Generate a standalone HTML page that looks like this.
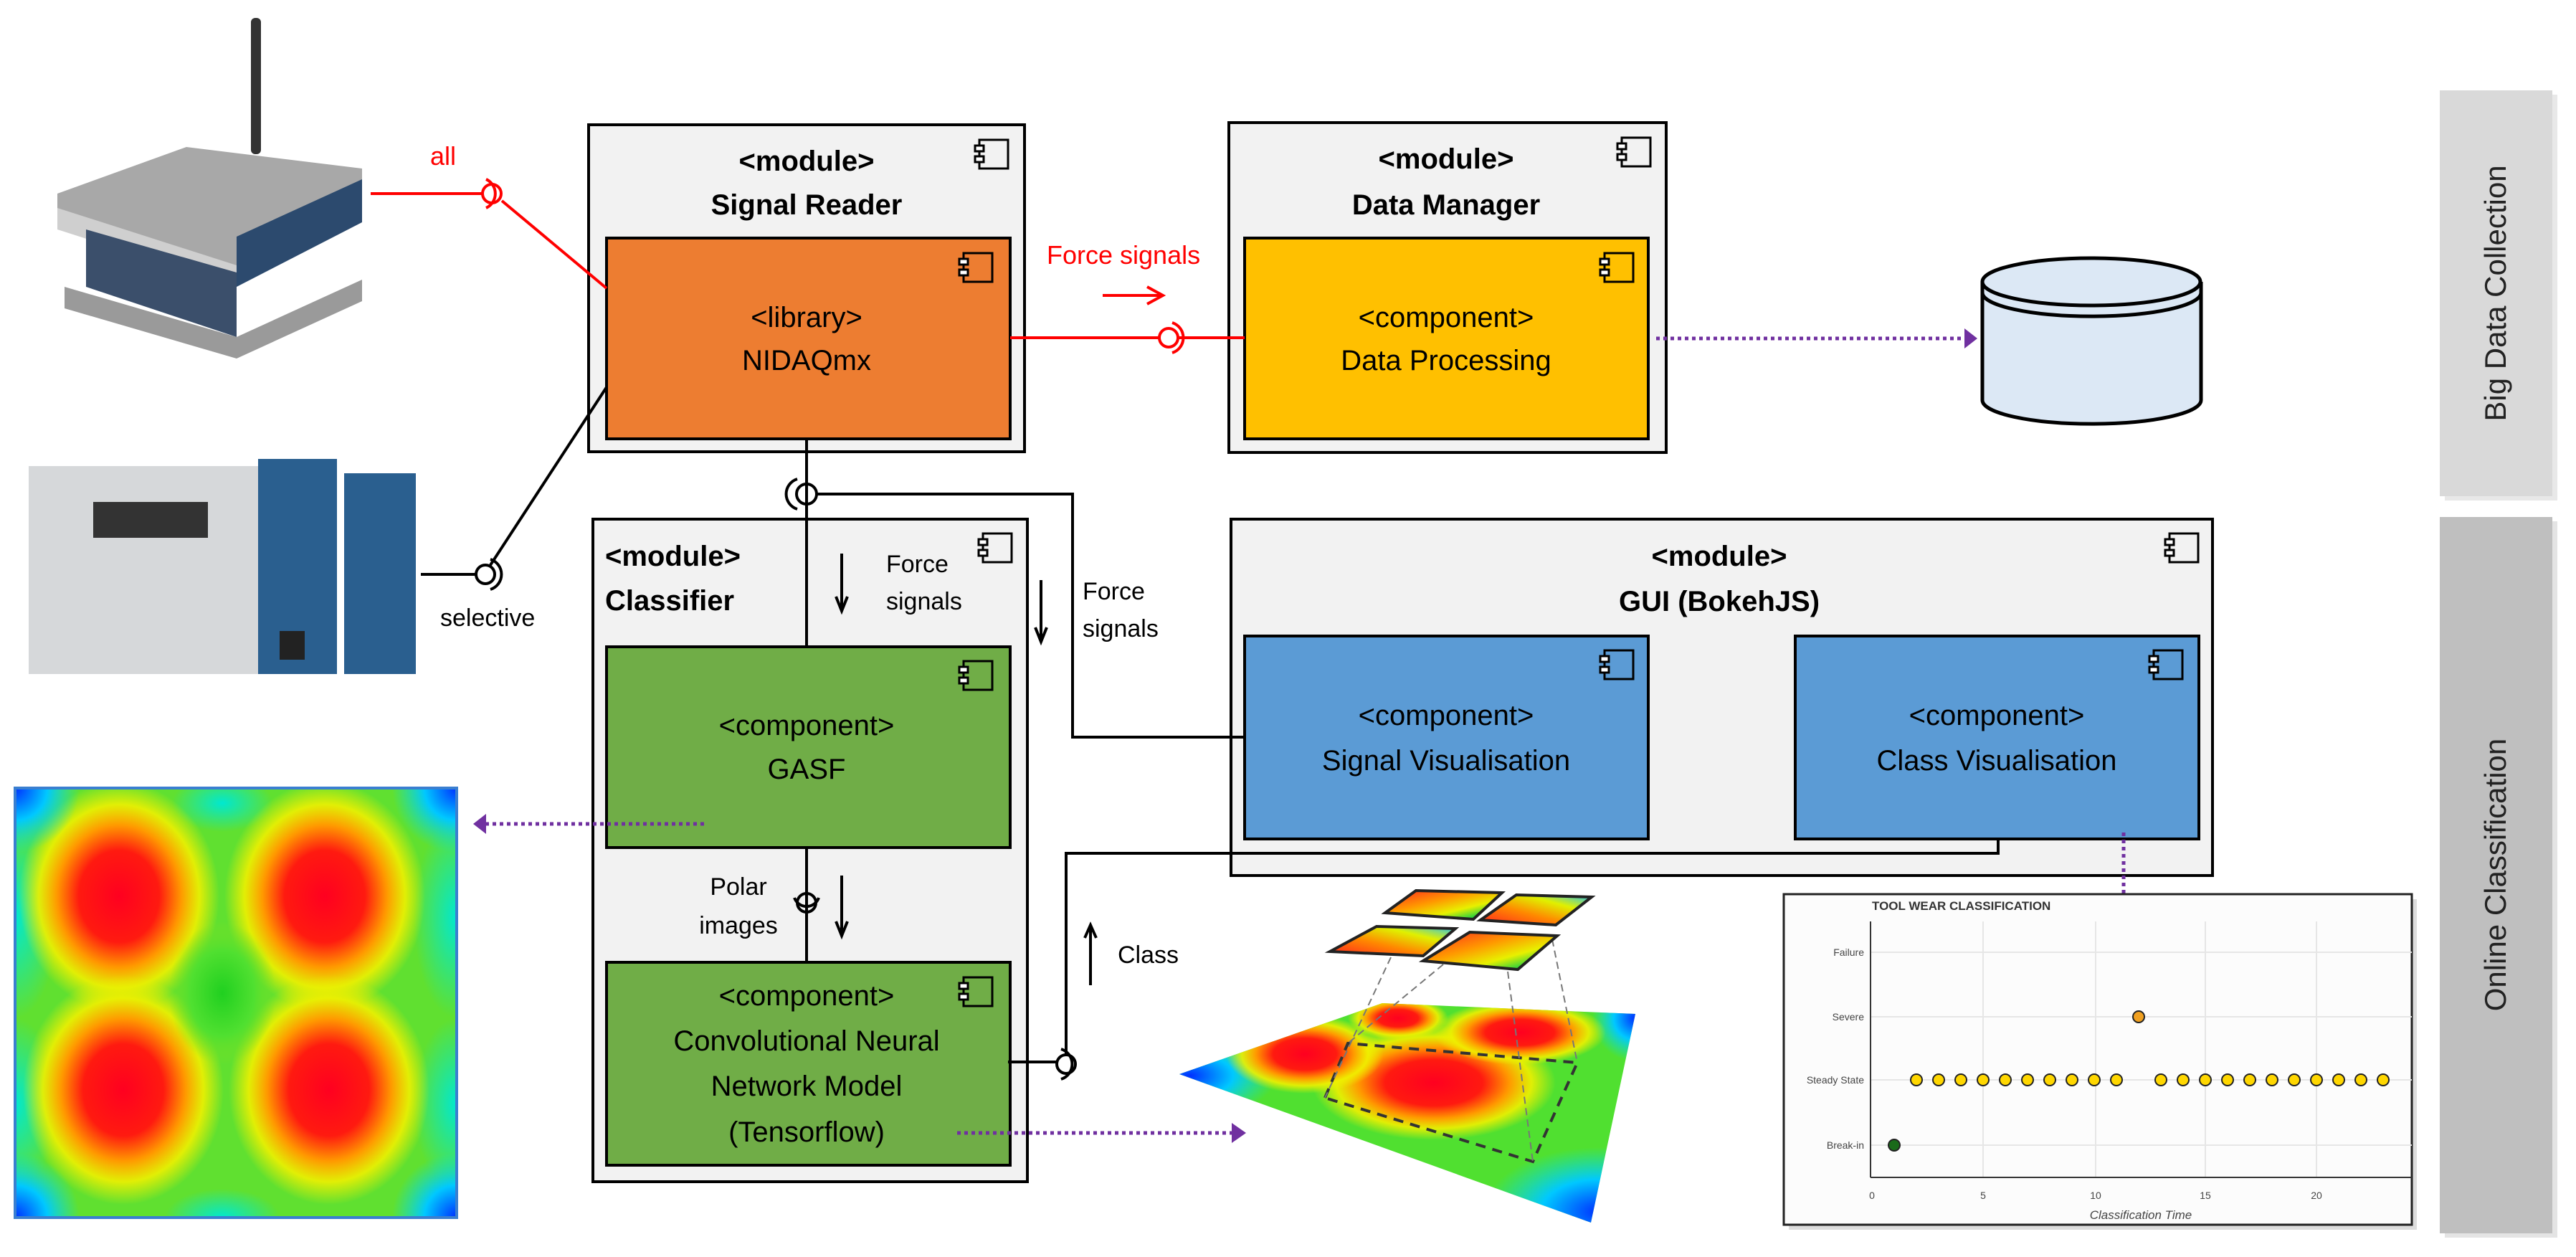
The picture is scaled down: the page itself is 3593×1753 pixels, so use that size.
<!DOCTYPE html>
<html><head><meta charset="utf-8"><style>html,body{margin:0;padding:0;background:#fff}svg{display:block}</style></head><body>
<svg xmlns="http://www.w3.org/2000/svg" width="3593" height="1753" viewBox="0 0 3593 1753" font-family="'Liberation Sans', sans-serif">
<defs>
<radialGradient id="hot"><stop offset="0" stop-color="#ff0020"/><stop offset="0.4" stop-color="#ff1a10"/><stop offset="0.62" stop-color="#ff9900"/><stop offset="0.8" stop-color="#f0f000" stop-opacity="0.9"/><stop offset="1" stop-color="#f0f000" stop-opacity="0"/></radialGradient>
<radialGradient id="cold"><stop offset="0" stop-color="#0030ff"/><stop offset="0.5" stop-color="#00c8ff"/><stop offset="1" stop-color="#00e0e0" stop-opacity="0"/></radialGradient>
<radialGradient id="cyan"><stop offset="0" stop-color="#00e8d0"/><stop offset="1" stop-color="#00e8d0" stop-opacity="0"/></radialGradient>
<radialGradient id="grn"><stop offset="0" stop-color="#20d020"/><stop offset="0.6" stop-color="#50e030"/><stop offset="1" stop-color="#80e020" stop-opacity="0"/></radialGradient>
<linearGradient id="tileg" x1="0" y1="0" x2="1" y2="1"><stop offset="0" stop-color="#ff2020"/><stop offset="0.4" stop-color="#ff9900"/><stop offset="0.65" stop-color="#e8f000"/><stop offset="0.85" stop-color="#20d040"/><stop offset="1" stop-color="#20a0ff"/></linearGradient>
<linearGradient id="tileg2" x1="1" y1="0" x2="0" y2="1"><stop offset="0" stop-color="#20c0ff"/><stop offset="0.3" stop-color="#e0f000"/><stop offset="0.6" stop-color="#ff8800"/><stop offset="1" stop-color="#ff2020"/></linearGradient>
<clipPath id="hm"><rect x="21" y="1099" width="616" height="599"/></clipPath>
<clipPath id="pl"><polygon points="1645,1498 1928,1399 2281,1414 2219,1705"/></clipPath>
</defs>

<!-- devices (approximate) -->
<rect x="350" y="25" width="14" height="190" rx="6" fill="#333"/>
<polygon points="80,270 260,205 505,235 505,300 330,380 80,300" fill="#a8a8a8"/>
<polygon points="330,330 505,250 505,310 330,400" fill="#2c4a6e"/>
<polygon points="80,290 330,370 330,400 80,320" fill="#cfcfcf"/>
<polygon points="90,400 330,470 505,390 505,420 330,500 90,430" fill="#9a9a9a"/>
<polygon points="120,320 330,380 330,470 120,400" fill="#3b4f6b"/>
<rect x="40" y="650" width="320" height="290" fill="#d6d8da"/>
<rect x="130" y="700" width="160" height="50" fill="#333"/>
<rect x="360" y="640" width="110" height="300" fill="#2a5f8f"/>
<rect x="480" y="660" width="100" height="280" fill="#2a5f8f"/>
<rect x="390" y="880" width="35" height="40" fill="#222"/>

<!-- heatmap left -->
<g clip-path="url(#hm)">
<rect x="21" y="1099" width="616" height="599" fill="#60e030"/>
<ellipse cx="310" cy="1120" rx="70" ry="40" fill="url(#cyan)"/>
<ellipse cx="21" cy="1280" rx="60" ry="140" fill="url(#cyan)"/>
<ellipse cx="637" cy="1280" rx="60" ry="140" fill="url(#cyan)"/>
<ellipse cx="21" cy="1540" rx="60" ry="120" fill="url(#cyan)"/>
<ellipse cx="637" cy="1540" rx="60" ry="120" fill="url(#cyan)"/>
<ellipse cx="310" cy="1698" rx="80" ry="40" fill="url(#cyan)"/>
<ellipse cx="166" cy="1250" rx="140" ry="160" fill="url(#hot)"/>
<ellipse cx="453" cy="1250" rx="140" ry="160" fill="url(#hot)"/>
<ellipse cx="172" cy="1520" rx="140" ry="160" fill="url(#hot)"/>
<ellipse cx="459" cy="1520" rx="140" ry="160" fill="url(#hot)"/>
<ellipse cx="310" cy="1385" rx="75" ry="100" fill="url(#grn)"/>
<circle cx="21" cy="1099" r="90" fill="url(#cold)"/>
<circle cx="637" cy="1099" r="90" fill="url(#cold)"/>
<circle cx="21" cy="1698" r="90" fill="url(#cold)"/>
<circle cx="637" cy="1698" r="90" fill="url(#cold)"/>
</g>
<rect x="21" y="1099" width="616" height="599" fill="none" stroke="#3a7fd0" stroke-width="4"/>

<!-- 3D plane -->
<g clip-path="url(#pl)">
<rect x="1640" y="1390" width="650" height="320" fill="#50e030"/>
<ellipse cx="1660" cy="1500" rx="120" ry="60" fill="url(#cold)"/>
<ellipse cx="2230" cy="1690" rx="160" ry="90" fill="url(#cold)"/>
<ellipse cx="2281" cy="1420" rx="60" ry="60" fill="url(#cold)"/>
<ellipse cx="2000" cy="1510" rx="170" ry="80" fill="url(#hot)"/>
<ellipse cx="1820" cy="1470" rx="110" ry="55" fill="url(#hot)"/>
<ellipse cx="2120" cy="1440" rx="120" ry="45" fill="url(#hot)"/>
<ellipse cx="1950" cy="1420" rx="70" ry="30" fill="url(#hot)"/>
</g>
<polyline points="1848,1531 1880,1455 2200,1482 2138,1620 1848,1531" fill="none" stroke="#333" stroke-width="4" stroke-dasharray="14 10"/>
<g stroke="#777" stroke-width="2" stroke-dasharray="10 6" fill="none">
<line x1="1940" y1="1335" x2="1848" y2="1531"/><line x1="2013" y1="1345" x2="1880" y2="1455"/>
<line x1="2103" y1="1355" x2="2138" y2="1620"/><line x1="2165" y1="1310" x2="2200" y2="1482"/>
</g>
<polygon points="1932,1273 1975,1242 2095,1245 2055,1282" fill="url(#tileg)" stroke="#222" stroke-width="4"/>
<polygon points="2065,1283 2115,1248 2220,1251 2170,1290" fill="url(#tileg2)" stroke="#222" stroke-width="4"/>
<polygon points="1855,1327 1920,1292 2030,1295 1985,1333" fill="url(#tileg2)" stroke="#222" stroke-width="4"/>
<polygon points="1985,1340 2050,1300 2172,1305 2117,1352" fill="url(#tileg)" stroke="#222" stroke-width="4"/>

<!-- side bars -->
<rect x="3410" y="132" width="157" height="566" fill="#e8e8e8"/>
<rect x="3403" y="126" width="157" height="566" fill="#d9d9d9"/>
<text transform="translate(3495,409) rotate(-90)" text-anchor="middle" font-size="42" fill="#222">Big Data Collection</text>
<rect x="3410" y="727" width="157" height="999" fill="#e4e4e4"/>
<rect x="3403" y="721" width="157" height="999" fill="#bfbfbf"/>
<text transform="translate(3495,1220) rotate(-90)" text-anchor="middle" font-size="42" fill="#222">Online Classification</text>

<!-- module boxes -->
<g stroke="#000" stroke-width="4" fill="#f2f2f2">
<rect x="821" y="174" width="608" height="456"/>
<rect x="1714" y="171" width="610" height="460"/>
<rect x="1717" y="724" width="1369" height="497"/>
<rect x="827" y="724" width="606" height="924"/>
</g>
<g stroke="#000" stroke-width="4">
<rect x="846" y="332" width="563" height="280" fill="#ed7d31"/>
<rect x="1736" y="332" width="563" height="280" fill="#ffc000"/>
<rect x="1736" y="887" width="563" height="283" fill="#5b9bd5"/>
<rect x="2504" y="887" width="563" height="283" fill="#5b9bd5"/>
<rect x="846" y="902" width="563" height="280" fill="#70ad47"/>
<rect x="846" y="1342" width="563" height="283" fill="#70ad47"/>
</g>

<!-- component icons -->
<g fill="none" stroke="#000" stroke-width="3">
<g id="ic"><rect x="1366" y="195" width="40" height="40"/><rect x="1360" y="203" width="12" height="8" fill="#fff"/><rect x="1360" y="218" width="12" height="8" fill="#fff"/></g>
<use href="#ic" x="-22" y="158"/>
<use href="#ic" x="896" y="-3"/>
<use href="#ic" x="872" y="158"/>
<use href="#ic" x="1660" y="549"/>
<use href="#ic" x="872" y="712"/>
<use href="#ic" x="1638" y="712"/>
<use href="#ic" x="5" y="549"/>
<use href="#ic" x="-22" y="727"/>
<use href="#ic" x="-22" y="1168"/>
</g>

<!-- texts -->
<g font-size="40" text-anchor="middle" fill="#000">
<text x="1125" y="238" font-weight="bold">&lt;module&gt;</text>
<text x="1125" y="299" font-weight="bold">Signal Reader</text>
<text x="1125" y="456">&lt;library&gt;</text>
<text x="1125" y="516">NIDAQmx</text>
<text x="2017" y="235" font-weight="bold">&lt;module&gt;</text>
<text x="2017" y="299" font-weight="bold">Data Manager</text>
<text x="2017" y="456">&lt;component&gt;</text>
<text x="2017" y="516">Data Processing</text>
<text x="2398" y="789" font-weight="bold">&lt;module&gt;</text>
<text x="2398" y="852" font-weight="bold">GUI (BokehJS)</text>
<text x="2017" y="1011">&lt;component&gt;</text>
<text x="2017" y="1074">Signal Visualisation</text>
<text x="2785" y="1011">&lt;component&gt;</text>
<text x="2785" y="1074">Class Visualisation</text>
<text x="1125" y="1025">&lt;component&gt;</text>
<text x="1125" y="1086">GASF</text>
<text x="1125" y="1402">&lt;component&gt;</text>
<text x="1125" y="1465">Convolutional Neural</text>
<text x="1125" y="1528">Network Model</text>
<text x="1125" y="1592">(Tensorflow)</text>
</g>
<g font-size="40" fill="#000">
<text x="844" y="789" font-weight="bold">&lt;module&gt;</text>
<text x="844" y="851" font-weight="bold">Classifier</text>
</g>
<g font-size="34" fill="#000">
<text x="1236" y="798">Force</text><text x="1236" y="850">signals</text>
<text x="1510" y="836">Force</text><text x="1510" y="888">signals</text>
<text x="1030" y="1248" text-anchor="middle">Polar</text><text x="1030" y="1302" text-anchor="middle">images</text>
<text x="1559" y="1343">Class</text>
<text x="614" y="873">selective</text>
</g>
<text x="600" y="230" font-size="36" fill="#ff0000">all</text>
<text x="1460" y="368" font-size="36" fill="#ff0000">Force signals</text>

<!-- red connectors -->
<g stroke="#ff0000" stroke-width="4" fill="none">
<polyline points="517,270 672,270"/>
<line x1="700" y1="280" x2="846" y2="402"/>
<circle cx="686" cy="270" r="13"/>
<path d="M 678 250 A 22 22 0 0 1 678 290"/>
<line x1="1409" y1="471" x2="1616" y2="471"/>
<line x1="1644" y1="471" x2="1736" y2="471"/>
<circle cx="1630" cy="471" r="13"/>
<path d="M 1635 450 A 22 22 0 0 1 1635 492"/>
<line x1="1538" y1="412" x2="1620" y2="412"/>
<polyline points="1600,400 1622,412 1600,424"/>
</g>

<!-- black connectors -->
<g stroke="#000" stroke-width="4" fill="none">
<line x1="846" y1="540" x2="684" y2="788"/>
<line x1="587" y1="801" x2="663" y2="801"/>
<circle cx="677" cy="801" r="13"/>
<path d="M 684 780 A 22 22 0 0 1 684 822"/>
<line x1="1125" y1="612" x2="1125" y2="902"/>
<circle cx="1125" cy="689" r="14"/>
<path d="M 1112 668 A 22 22 0 0 0 1112 710"/>
<polyline points="1139,689 1496,689 1496,1028 1736,1028"/>
<line x1="1125" y1="1182" x2="1125" y2="1342"/>
<circle cx="1125" cy="1259" r="13"/>
<path d="M 1108 1252 A 18 18 0 0 0 1142 1252"/>
<line x1="1406" y1="1481" x2="1473" y2="1481"/>
<circle cx="1487" cy="1484" r="13"/>
<path d="M 1480 1463 A 22 22 0 0 1 1480 1505"/>
<polyline points="1487,1471 1487,1190 2787,1190 2787,1170"/>
<line x1="1174" y1="772" x2="1174" y2="850"/><polyline points="1166,832 1174,852 1182,832"/>
<line x1="1452" y1="809" x2="1452" y2="893"/><polyline points="1444,875 1452,895 1460,875"/>
<line x1="1174" y1="1221" x2="1174" y2="1303"/><polyline points="1166,1285 1174,1305 1182,1285"/>
<line x1="1521" y1="1290" x2="1521" y2="1374"/><polyline points="1513,1308 1521,1290 1529,1308"/>
</g>

<!-- purple dotted -->
<g stroke="#7030a0" stroke-width="5" stroke-dasharray="5 5" fill="none">
<line x1="2310" y1="472" x2="2740" y2="472"/>
<line x1="982" y1="1149" x2="678" y2="1149"/>
<line x1="1335" y1="1580" x2="1718" y2="1580"/>
<line x1="2962" y1="1161" x2="2962" y2="1315"/>
</g>
<g fill="#7030a0">
<polygon points="2740,458 2758,472 2740,486"/>
<polygon points="678,1135 660,1149 678,1163"/>
<polygon points="1718,1566 1738,1580 1718,1594"/>
<polygon points="2950,1310 2974,1310 2962,1336"/>
</g>

<!-- cylinder -->
<path d="M2765,393 L2765,558 A152,33 0 0 0 3070,558 L3070,393" fill="#dce8f5" stroke="#000" stroke-width="5"/>
<ellipse cx="2917" cy="393" rx="152" ry="33" fill="#dce8f5" stroke="#000" stroke-width="5"/>
<path d="M2765,408 A152,33 0 0 0 3070,408" fill="none" stroke="#000" stroke-width="5"/>

<!-- chart -->
<rect x="2495" y="1254" width="876" height="461" fill="#ddd"/>
<rect x="2488" y="1247" width="876" height="461" fill="#fcfcfc" stroke="#222" stroke-width="3"/>
<text x="2611" y="1269" font-size="17" font-weight="bold" fill="#333">TOOL WEAR CLASSIFICATION</text>
<g stroke="#e6e6e6" stroke-width="2">
<line x1="2609" y1="1328" x2="3364" y2="1328"/><line x1="2609" y1="1418" x2="3364" y2="1418"/>
<line x1="2609" y1="1506" x2="3364" y2="1506"/><line x1="2609" y1="1597" x2="3364" y2="1597"/>
<line x1="2766" y1="1285" x2="2766" y2="1642"/><line x1="2923" y1="1285" x2="2923" y2="1642"/>
<line x1="3076" y1="1285" x2="3076" y2="1642"/><line x1="3231" y1="1285" x2="3231" y2="1642"/>
</g>
<g stroke="#333" stroke-width="2"><line x1="2609" y1="1285" x2="2609" y2="1642"/><line x1="2609" y1="1642" x2="3364" y2="1642"/></g>
<g font-size="14" fill="#444" text-anchor="end">
<text x="2600" y="1333">Failure</text><text x="2600" y="1423">Severe</text><text x="2600" y="1511">Steady State</text><text x="2600" y="1602">Break-in</text>
</g>
<g font-size="14" fill="#444" text-anchor="middle">
<text x="2611" y="1672">0</text><text x="2766" y="1672">5</text><text x="2923" y="1672">10</text><text x="3076" y="1672">15</text><text x="3231" y="1672">20</text>
<text x="2986" y="1700" font-style="italic" font-size="17">Classification Time</text>
</g>
<g fill="#ffd700" stroke="#222" stroke-width="2">
<circle cx="2673" cy="1506" r="8"/><circle cx="2704" cy="1506" r="8"/><circle cx="2735" cy="1506" r="8"/><circle cx="2766" cy="1506" r="8"/><circle cx="2797" cy="1506" r="8"/><circle cx="2828" cy="1506" r="8"/><circle cx="2859" cy="1506" r="8"/><circle cx="2890" cy="1506" r="8"/><circle cx="2921" cy="1506" r="8"/><circle cx="2952" cy="1506" r="8"/>
<circle cx="3014" cy="1506" r="8"/><circle cx="3045" cy="1506" r="8"/><circle cx="3076" cy="1506" r="8"/><circle cx="3107" cy="1506" r="8"/><circle cx="3138" cy="1506" r="8"/><circle cx="3169" cy="1506" r="8"/><circle cx="3200" cy="1506" r="8"/><circle cx="3231" cy="1506" r="8"/><circle cx="3262" cy="1506" r="8"/><circle cx="3293" cy="1506" r="8"/><circle cx="3324" cy="1506" r="8"/>
<circle cx="2983" cy="1418" r="8" fill="#f0a020"/>
<circle cx="2642" cy="1597" r="8" fill="#1a6a1a"/>
</g>
</svg>
</body></html>
